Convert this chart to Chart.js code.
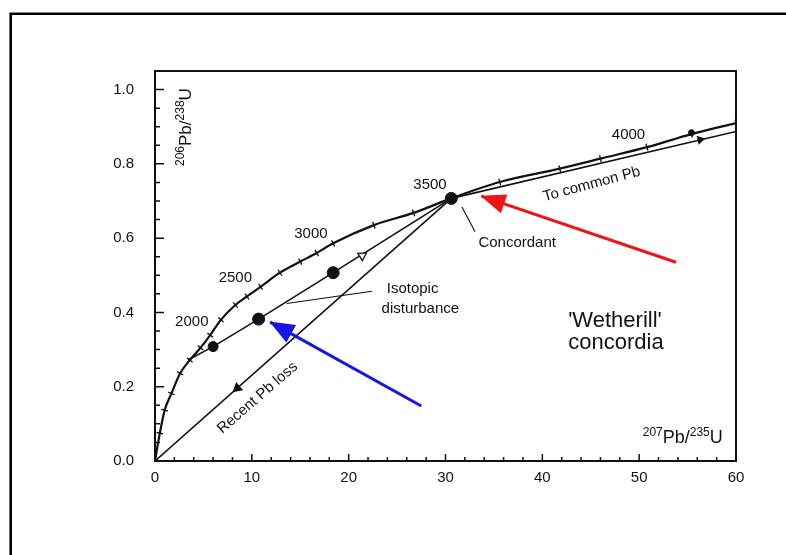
<!DOCTYPE html>
<html>
<head>
<meta charset="utf-8">
<script src="https://cdn.jsdelivr.net/npm/chart.js@4.4.0/dist/chart.umd.min.js"></script>
<style>
  html, body { margin: 0; padding: 0; background: #fff; }
  #box { width: 786px; height: 555px; }
</style>
</head>
<body>
<div id="box"><canvas id="grafico" width="786" height="555"></canvas></div>
<script>
// CONCORDIA CURVE (207Pb/235U, 206Pb/238U)
let concordiaX = [0, 0.5, 1.0, 1.7, 2.6, 3.6, 4.7, 5.7, 6.8, 8.3, 9.5, 10.9, 12.9, 15.0, 16.7, 18.4, 22.6, 26.7, 30.6, 35.6, 41.8, 46.0, 50.8, 55.4, 60]
let concordiaY = [0, 0.075, 0.137, 0.182, 0.236, 0.272, 0.305, 0.339, 0.380, 0.420, 0.443, 0.469, 0.507, 0.537, 0.560, 0.586, 0.635, 0.668, 0.707, 0.751, 0.787, 0.814, 0.845, 0.880, 0.910]

// DISCORDIA LINES
let disturbX = [3.4, 6.0, 10.7, 18.4, 30.6]
let disturbY = [0.272, 0.308, 0.382, 0.507, 0.707]
let pbLossX = [0, 30.6]
let pbLossY = [0, 0.707]
let commonPbX = [30.6, 60]
let commonPbY = [0.707, 0.887]

// SAMPLE DOTS
let dotsX = [6.0, 10.7, 18.4, 30.6, 55.4]
let dotsY = [0.308, 0.382, 0.507, 0.707, 0.884]

// DIRECTION MARKERS ON THE LINES
let markX = [21.4, 8.5, 56.3]
let markY = [0.553, 0.196, 0.865]

// LEADER LINES FOR THE LABELS
let leaderIsoX = [13.6, 22.4]
let leaderIsoY = [0.424, 0.457]
let leaderConcX = [31.7, 33.05]
let leaderConcY = [0.684, 0.617]

// COLOURED ANNOTATION ARROWS (TAIL -> TIP)
let redArrowX = [53.8, 33.7]
let redArrowY = [0.535, 0.713]
let blueArrowX = [27.5, 11.9]
let blueArrowY = [0.148, 0.374]

// AGE LABELS (Ma)
let ageLabels = ['2000', '2500', '3000', '3500', '4000']
let ageLabelX = [3.8, 8.3, 16.1, 28.4, 48.9]
let ageLabelY = [0.375, 0.494, 0.611, 0.743, 0.877]

let xTicks = [0, 10, 20, 30, 40, 50, 60]
let yTicks = [0, 0.2, 0.4, 0.6, 0.8, 1.0]

function pts(xs, ys) {
    return xs.map((x, i) => ({ x: x, y: ys[i] }))
}

const INK = '#111'
const FONT = '"Liberation Sans", Arial, Helvetica, sans-serif'

// DRAW TEXT WITH SUPERSCRIPT MASS NUMBERS, CENTRED ON 0,0
function drawRatio(ctx, parts, big, small) {
    let total = 0
    parts.forEach(p => {
        ctx.font = (p[1] ? small : big) + 'px ' + FONT
        total += ctx.measureText(p[0]).width
    })
    let x = -total / 2
    ctx.textAlign = 'left'
    ctx.textBaseline = 'alphabetic'
    parts.forEach(p => {
        ctx.font = (p[1] ? small : big) + 'px ' + FONT
        ctx.fillText(p[0], x, p[1] ? big * 0.35 - big * 0.42 : big * 0.35)
        x += ctx.measureText(p[0]).width
    })
}

function arrowHead(ctx, x0, y0, x1, y1, len, wid, color) {
    let ang = Math.atan2(y1 - y0, x1 - x0)
    ctx.save()
    ctx.translate(x1, y1)
    ctx.rotate(ang)
    ctx.fillStyle = color
    ctx.beginPath()
    ctx.moveTo(1, 0)
    ctx.lineTo(-len, -wid / 2)
    ctx.lineTo(-len, wid / 2)
    ctx.closePath()
    ctx.fill()
    ctx.restore()
}

const extras = {
    id: 'extras',
    beforeDraw(chart) {
        let ctx = chart.ctx
        ctx.save()
        ctx.fillStyle = '#fff'
        ctx.fillRect(0, 0, chart.width, chart.height)
        // OUTER FRAME (ONLY TOP AND LEFT ARE VISIBLE)
        ctx.strokeStyle = '#000'
        ctx.lineWidth = 2.6
        ctx.beginPath()
        ctx.moveTo(10.7, chart.height)
        ctx.lineTo(10.7, 13.7)
        ctx.lineTo(chart.width, 13.7)
        ctx.stroke()
        ctx.restore()
    },
    afterDraw(chart) {
        let ctx = chart.ctx
        let a = chart.chartArea
        let sx = chart.scales.x
        let sy = chart.scales.y
        ctx.save()

        // PLOT FRAME
        ctx.strokeStyle = INK
        ctx.lineWidth = 2
        ctx.strokeRect(a.left, a.top, a.right - a.left, a.bottom - a.top)

        // INWARD TICKS
        ctx.lineWidth = 1.5
        ctx.beginPath()
        for (let v = 2; v < 60; v += 2) {
            let p = sx.getPixelForValue(v)
            let len = v % 10 === 0 ? 7 : 4
            ctx.moveTo(p, a.bottom)
            ctx.lineTo(p, a.bottom - len)
        }
        for (let k = 1; k <= 20; k++) {
            let p = sy.getPixelForValue(k * 0.05)
            let len = k % 4 === 0 ? 9 : 5
            ctx.moveTo(a.left, p)
            ctx.lineTo(a.left + len, p)
        }
        ctx.stroke()

        // ANNOTATION ARROW HEADS
        arrowHead(ctx, sx.getPixelForValue(redArrowX[0]), sy.getPixelForValue(redArrowY[0]),
            sx.getPixelForValue(redArrowX[1]), sy.getPixelForValue(redArrowY[1]), 24, 20, '#f01414')
        arrowHead(ctx, sx.getPixelForValue(blueArrowX[0]), sy.getPixelForValue(blueArrowY[0]),
            sx.getPixelForValue(blueArrowX[1]), sy.getPixelForValue(blueArrowY[1]), 24, 20, '#1616e6')

        // TEXT
        ctx.fillStyle = INK
        ctx.textAlign = 'center'
        ctx.textBaseline = 'middle'
        ctx.font = '15px ' + FONT
        ageLabels.forEach((t, i) => {
            ctx.fillText(t, sx.getPixelForValue(ageLabelX[i]), sy.getPixelForValue(ageLabelY[i]))
        })
        ctx.fillText('Concordant', sx.getPixelForValue(37.4), sy.getPixelForValue(0.586))
        ctx.fillText('Isotopic', sx.getPixelForValue(26.6), sy.getPixelForValue(0.463))
        ctx.fillText('disturbance', sx.getPixelForValue(27.4), sy.getPixelForValue(0.409))

        ctx.save()
        ctx.translate(sx.getPixelForValue(45.1), sy.getPixelForValue(0.745))
        ctx.rotate(-15 * Math.PI / 180)
        ctx.fillText('To common Pb', 0, 0)
        ctx.restore()

        ctx.save()
        ctx.translate(sx.getPixelForValue(10.6), sy.getPixelForValue(0.17))
        ctx.rotate(-41 * Math.PI / 180)
        ctx.fillText('Recent Pb loss', 0, 0)
        ctx.restore()

        ctx.font = '22px ' + FONT
        ctx.fillText("'Wetherill'", sx.getPixelForValue(47.5), sy.getPixelForValue(0.377))
        ctx.fillText('concordia', sx.getPixelForValue(47.6), sy.getPixelForValue(0.317))

        // AXIS TITLES
        ctx.save()
        ctx.translate(sx.getPixelForValue(54.5), sy.getPixelForValue(0.065))
        drawRatio(ctx, [['207', 1], ['Pb/', 0], ['235', 1], ['U', 0]], 18, 12)
        ctx.restore()

        ctx.save()
        ctx.translate(sx.getPixelForValue(3.1), sy.getPixelForValue(0.899))
        ctx.rotate(-Math.PI / 2)
        drawRatio(ctx, [['206', 1], ['Pb/', 0], ['238', 1], ['U', 0]], 17, 12)
        ctx.restore()

        ctx.restore()
    }
}

function lineSet(xs, ys, width, color, order) {
    return {
        data: pts(xs, ys),
        showLine: true,
        borderColor: color,
        borderWidth: width,
        pointRadius: 0,
        order: order
    }
}

let grafico = new Chart(document.getElementById('grafico'), {
    type: 'scatter',
    data: {
        datasets: [
            // RED AND BLUE ARROWS ON TOP
            lineSet(redArrowX, redArrowY, 3, '#f01414', -2),
            lineSet(blueArrowX, blueArrowY, 3, '#1616e6', -2),
            // DOTS
            {
                data: pts(dotsX, dotsY),
                pointRadius: [5, 6, 6, 6, 3],
                pointBackgroundColor: INK,
                pointBorderColor: INK,
                order: 0
            },
            // DIRECTION MARKERS
            {
                data: pts(markX, markY),
                pointStyle: 'triangle',
                pointRadius: [5, 5, 4],
                rotation: [58, 229, 77],
                pointBackgroundColor: ['#fff', INK, INK],
                pointBorderColor: INK,
                pointBorderWidth: 1.3,
                order: 1
            },
            // CONCORDIA WITH SMALL AGE TICKS
            {
                data: pts(concordiaX, concordiaY),
                showLine: true,
                borderColor: INK,
                borderWidth: 2.2,
                cubicInterpolationMode: 'monotone',
                pointStyle: 'line',
                pointRadius: 3.5,
                pointBorderColor: INK,
                pointBorderWidth: 1.3,
                rotation: function (c) {
                    let i = c.dataIndex
                    let ch = c.chart
                    let s1 = Math.max(i - 1, 0)
                    let s2 = Math.min(i + 1, concordiaX.length - 1)
                    let dx = ch.scales.x.getPixelForValue(concordiaX[s2]) - ch.scales.x.getPixelForValue(concordiaX[s1])
                    let dy = ch.scales.y.getPixelForValue(concordiaY[s2]) - ch.scales.y.getPixelForValue(concordiaY[s1])
                    return Math.atan2(dy, dx) * 180 / Math.PI + 90
                },
                order: 3
            },
            lineSet(disturbX, disturbY, 1.6, INK, 4),
            lineSet(pbLossX, pbLossY, 1.6, INK, 4),
            lineSet(commonPbX, commonPbY, 1.6, INK, 4),
            lineSet(leaderIsoX, leaderIsoY, 1.1, INK, 4),
            lineSet(leaderConcX, leaderConcY, 1.1, INK, 4)
        ]
    },
    options: {
        responsive: false,
        animation: false,
        layout: { padding: { left: 0, top: 71, right: 50, bottom: 64 } },
        plugins: { legend: { display: false }, tooltip: { enabled: false } },
        scales: {
            x: {
                type: 'linear',
                min: 0,
                max: 60,
                afterBuildTicks: s => { s.ticks = xTicks.map(v => ({ value: v })) },
                ticks: { padding: 8, color: INK, font: { family: FONT, size: 15 } },
                grid: { display: false, drawTicks: false },
                border: { display: false },
                afterFit: s => { s.height = 30 }
            },
            y: {
                type: 'linear',
                min: 0,
                max: 1.05,
                afterBuildTicks: s => { s.ticks = yTicks.map(v => ({ value: v })) },
                ticks: { padding: 21, color: INK, font: { family: FONT, size: 15 }, callback: v => v.toFixed(1) },
                grid: { display: false, drawTicks: false },
                border: { display: false },
                afterFit: s => { s.width = 155 }
            }
        }
    },
    plugins: [extras]
})
</script>
</body>
</html>
